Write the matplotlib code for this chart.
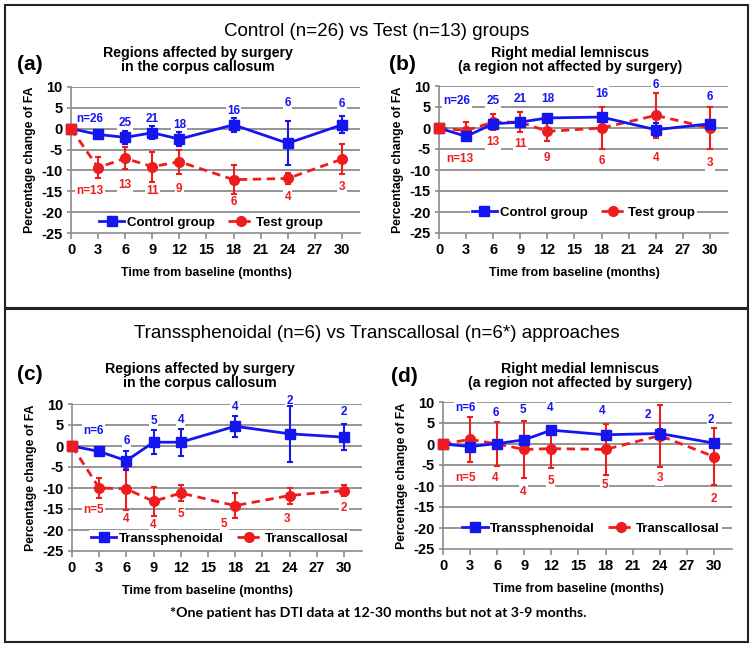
import matplotlib
matplotlib.use("Agg")
import matplotlib.pyplot as plt
from matplotlib.patches import Rectangle
from matplotlib.lines import Line2D

plt.rcParams['font.family'] = ['Liberation Sans', 'DejaVu Sans']

W, H = 754, 648

months = [0, 3, 6, 9, 12, 18, 24, 30]
xticks = [0, 3, 6, 9, 12, 15, 18, 21, 24, 27, 30]
yticks = [10, 5, 0, -5, -10, -15, -20, -25]

# Panel (a): corpus callosum, control vs test
ctrl_a = [0, -1.4, -2.1, -1.0, -2.5, 0.9, -3.5, 0.9]
ctrl_a_err = [0, 0.5, 1.6, 1.5, 1.6, 1.6, 5.3, 2.0]
test_a = [0, -9.3, -7.1, -9.1, -7.9, -12.2, -11.9, -7.3]
test_a_err = [0, 2.5, 2.6, 3.6, 2.9, 3.5, 1.3, 3.6]
# Panel (b): right medial lemniscus, control vs test
ctrl_b = [0, -2.0, 1.0, 1.4, 2.4, 2.6, -0.4, 1.0]
ctrl_b_err = [0, 0.6, 0.8, 0.8, 0.6, 0.8, 1.5, 0.8]
test_b = [0, -0.6, 1.4, 1.4, -0.8, 0.0, 3.0, 0.0]
test_b_err = [0, 2.1, 1.9, 2.4, 2.4, 5.1, 5.3, 4.9]
# Panel (c): corpus callosum, transsphenoidal vs transcallosal
ts_c = [0, -1.3, -3.5, 0.9, 0.9, 4.7, 2.9, 2.1]
ts_c_err = [0, 0.6, 2.2, 2.9, 3.2, 2.5, 6.7, 3.1]
tc_c = [0, -10.0, -10.2, -13.2, -11.2, -14.2, -11.8, -10.6]
tc_c_err = [0, 2.4, 5.0, 3.5, 2.0, 2.9, 1.9, 1.3]
# Panel (d): right medial lemniscus, transsphenoidal vs transcallosal
ts_d = [0, -0.6, 0.1, 1.0, 3.3, 2.2, 2.5, 0.2]
ts_d_err = [0, 0.6, 0.6, 0.8, 0.8, 1.0, 1.0, 0.8]
tc_d = [0, 1.1, 0.0, -1.3, -1.1, -1.3, 2.0, -3.0]
tc_d_err = [0, 5.3, 5.35, 6.8, 4.5, 6.0, 7.4, 6.8]

# sample-size labels
n_ctrl = ['n=26', '25', '21', '18', '16', '6', '6']
n_test = ['n=13', '13', '11', '9', '6', '4', '3']
n_ts = ['n=6', '6', '5', '4', '4', '2', '2']
n_tc = ['n=5', '4', '4', '5', '5', '3', '2']

# label positions (layout)
pos_a_blue = ([2.1, 6, 9, 12, 18, 24, 30], [2.4, 1.4, 2.3, 0.9, 4.2, 6.0, 5.8])
pos_a_red = ([2.1, 6, 9, 12, 18, 24, 30], [-14.9, -13.4, -14.9, -14.4, -17.5, -16.3, -13.9])
pos_b_blue = ([2.0, 6, 9, 12, 18, 24, 30], [6.4, 6.4, 7.0, 7.0, 8.2, 10.2, 7.4])
pos_b_red = ([2.3, 6, 9, 12, 18, 24, 30], [-7.4, -3.4, -3.8, -7.2, -7.9, -7.2, -8.4])
pos_c_blue = ([2.4, 6, 9, 12, 18, 24, 30], [3.5, 1.3, 6.0, 6.3, 9.4, 10.8, 8.0])
pos_c_red = ([2.4, 6, 9, 12, 16.8, 23.7, 30], [-15.2, -17.5, -18.7, -16.3, -18.5, -17.3, -14.8])
pos_d_blue = ([2.5, 5.8, 8.9, 11.9, 17.6, 22.7, 29.7], [8.6, 7.4, 8.0, 8.6, 7.8, 7.0, 5.8])
pos_d_red = ([2.5, 5.8, 8.9, 11.9, 17.9, 24, 30], [-8.1, -8.1, -11.4, -8.9, -9.7, -8.2, -13.0])

BLUE = '#1515f0'
RED = '#ee1c1c'
GRID = '#8c8c8c'

fig = plt.figure(figsize=(W / 100, H / 100), dpi=100)


def fx(x):
    return x / W


def fy(y):
    return 1 - y / H


# outer boxes
for (x0, y0, x1, y1) in [(5, 5, 748, 308), (5, 309, 748, 642)]:
    fig.patches.append(Rectangle((fx(x0), fy(y1)), fx(x1) - fx(x0), fy(y0) - fy(y1),
                                 transform=fig.transFigure, fill=False,
                                 edgecolor='#222222', lw=1.5))

fig.text(fx(377), fy(32), 'Control (n=26) vs Test (n=13) groups', ha='center', va='center',
         fontsize=13.5)
fig.text(fx(377), fy(334), 'Transsphenoidal (n=6) vs Transcallosal (n=6*) approaches',
         ha='center', va='center', fontsize=13.5)
fig.text(fx(378), fy(613), '*One patient has DTI data at 12-30 months but not at 3-9 months.',
         ha='center', va='center', fontsize=10.2, fontweight='bold', family=['Lato', 'DejaVu Sans'])

panels = [
    # letter, axes px box (x0, xright, ytop, ybottom), subtitle center x, letter pos, subtitle y
    ('(a)', (71, 360, 86.7, 233.3), 198, (30, 65), 60,
     'Regions affected by surgery\nin the corpus callosum',
     ctrl_a, ctrl_a_err, test_a, test_a_err, n_ctrl, n_test, pos_a_blue, pos_a_red,
     ('Control group', 'Test group'), (15.5, -22.4)),
    ('(b)', (439, 728, 86, 233), 570, (402, 65), 60,
     'Right medial lemniscus\n(a region not affected by surgery)',
     ctrl_b, ctrl_b_err, test_b, test_b_err, n_ctrl, n_test, pos_b_blue, pos_b_red,
     ('Control group', 'Test group'), (16.0, -20.2)),
    ('(c)', (72, 362, 404, 551), 200, (30, 375), 376,
     'Regions affected by surgery\nin the corpus callosum',
     ts_c, ts_c_err, tc_c, tc_c_err, n_ts, n_tc, pos_c_blue, pos_c_red,
     ('Transsphenoidal', 'Transcallosal'), (16.3, -22.0)),
    ('(d)', (443, 732, 402, 549), 580, (404, 377), 376,
     'Right medial lemniscus\n(a region not affected by surgery)',
     ts_d, ts_d_err, tc_d, tc_d_err, n_ts, n_tc, pos_d_blue, pos_d_red,
     ('Transsphenoidal', 'Transcallosal'), (16.4, -20.1)),
]

for (letter, box, subx, lpos, suby, subtitle, b_vals, b_err, r_vals, r_err,
     b_lab, r_lab, b_pos, r_pos, leg_names, leg_xy) in panels:
    x0, x1, yt, yb = box
    ax = fig.add_axes([fx(x0), fy(yb), fx(x1) - fx(x0), fy(yt) - fy(yb)])
    ax.set_xlim(0, 32)
    ax.set_ylim(-25, 10)
    ax.set_xticks(xticks)
    ax.set_yticks(yticks)
    ax.set_xticklabels([str(t) for t in xticks], fontsize=10.5, fontweight='bold')
    ax.set_yticklabels([str(t) for t in yticks], fontsize=10.5, fontweight='bold')
    for s in ['top', 'right']:
        ax.spines[s].set_visible(False)
    for s in ['left', 'bottom']:
        ax.spines[s].set_color(GRID)
        ax.spines[s].set_linewidth(1.2)
    ax.tick_params(axis='x', direction='out', length=4, width=1.2, color=GRID, pad=3)
    ax.tick_params(axis='y', direction='out', length=3, width=1.2, color=GRID, pad=3)
    for t in yticks:
        if t != -25:
            ax.axhline(t, color=GRID, lw=1.3, zorder=0)

    ax.errorbar(months, r_vals, yerr=r_err, color=RED, ecolor=RED, lw=2.0, ls=(0, (3, 2)),
                marker='o', ms=7, mfc=RED, mec=RED, capsize=2.5, elinewidth=1.5,
                capthick=1.5, zorder=3, clip_on=False)
    ax.errorbar(months, b_vals, yerr=b_err, color=BLUE, ecolor=BLUE, lw=2.0, ls='-',
                marker='s', ms=7, mfc=BLUE, mec=BLUE, capsize=2.5, elinewidth=1.5,
                capthick=1.5, zorder=4, clip_on=False)
    # baseline marker drawn in red on top, as in the reference
    ax.plot(months[:1], r_vals[:1], marker='s', ms=7, color=RED, zorder=5, clip_on=False)

    for lab, xx, yy in zip(b_lab, b_pos[0], b_pos[1]):
        ax.text(xx, yy, lab, color=BLUE, fontsize=8.5, fontweight='bold', ha='center',
                va='center', zorder=2, clip_on=False,
                bbox=dict(facecolor='white', edgecolor='none', pad=1))
    for lab, xx, yy in zip(r_lab, r_pos[0], r_pos[1]):
        ax.text(xx, yy, lab, color=RED, fontsize=8.5, fontweight='bold', ha='center',
                va='center', zorder=2, clip_on=False,
                bbox=dict(facecolor='white', edgecolor='none', pad=1))

    handles = [Line2D([], [], color=BLUE, lw=2.0, marker='s', ms=7),
               Line2D([], [], color=RED, lw=2.0, ls=(0, (3, 2)), marker='o', ms=7)]
    leg = ax.legend(handles, leg_names, loc='center', bbox_to_anchor=leg_xy,
                    bbox_transform=ax.transData, ncol=2, frameon=True, fancybox=False,
                    framealpha=1, edgecolor='none', facecolor='white',
                    prop=dict(weight='bold', size=9.5), handlelength=1.9,
                    handletextpad=0.2, columnspacing=1.0, borderpad=0.15,
                    borderaxespad=0)
    leg.set_zorder(2)

    fig.text(fx(subx), fy(suby), subtitle, ha='center', va='center',
             fontsize=10.2, fontweight='bold', linespacing=1.05)
    fig.text(fx(lpos[0]), fy(lpos[1]), letter, ha='center', va='center',
             fontsize=15, fontweight='bold')
    fig.text(fx(x0 - 41), fy((yt + yb) / 2), 'Percentage change of FA', rotation=90,
             ha='center', va='center', fontsize=8.8, fontweight='bold')
    fig.text(fx((x0 + x0 + 30 * (x1 - x0) / 32) / 2), fy(yb + 40),
             'Time from baseline (months)', ha='center', va='center',
             fontsize=9, fontweight='bold')

fig.savefig('out.png', dpi=100)
